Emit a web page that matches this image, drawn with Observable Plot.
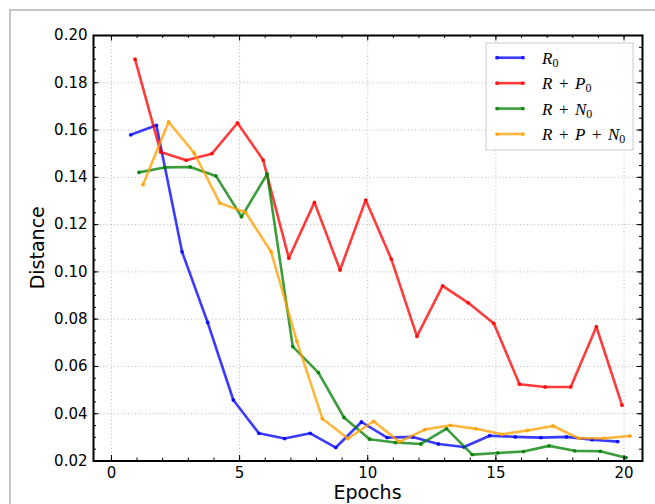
<!DOCTYPE html>
<html>
<head>
<meta charset="utf-8">
<script src="https://cdn.jsdelivr.net/npm/d3@7"></script>
<script src="https://cdn.jsdelivr.net/npm/@observablehq/plot@0.6"></script>
<style>
  body { margin: 0; background: #fff; }
  svg { display: block; }
</style>
</head>
<body>
<div id="chart"></div>
<script>
// ---- data ----
const epochs = [1, 2, 3, 4, 5, 6, 7, 8, 9, 10, 11, 12, 13, 14, 15, 16, 17, 18, 19, 20];
const seriesNames = ["R_0", "R+P_0", "R+N_0", "R+P+N_0"];
const seriesColors = ["#0000ff", "#ff0000", "#008000", "#ffa000"];
const r0   = [0.158, 0.162, 0.1085, 0.0786, 0.0458, 0.0317, 0.0295, 0.0317, 0.0257, 0.0365,
              0.0299, 0.0302, 0.0272, 0.0259, 0.0307, 0.0302, 0.0299, 0.0302, 0.0290, 0.0282];
const rp0  = [0.190, 0.1507, 0.1472, 0.1500, 0.1630, 0.1473, 0.1058, 0.1294, 0.1008, 0.1304,
              0.1054, 0.0727, 0.0941, 0.0869, 0.0782, 0.0525, 0.0513, 0.0513, 0.0768, 0.0436];
const rn0  = [0.1421, 0.1442, 0.1444, 0.1406, 0.1233, 0.1414, 0.0684, 0.0574, 0.0384, 0.0292,
              0.0278, 0.0272, 0.0337, 0.0227, 0.0234, 0.0240, 0.0264, 0.0243, 0.0241, 0.0214];
const rpn0 = [0.1369, 0.1634, 0.1503, 0.1291, 0.1252, 0.1085, 0.0708, 0.0379, 0.0295, 0.0368,
              0.0281, 0.0333, 0.0351, 0.0336, 0.0313, 0.0329, 0.0348, 0.0296, 0.0296, 0.0306];
const xTicks = [0, 5, 10, 15, 20];
const yTicks = [0.02, 0.04, 0.06, 0.08, 0.10, 0.12, 0.14, 0.16, 0.18, 0.20];
const xLabel = "Epochs";
const yLabel = "Distance";

// ---- layout / style ----
const seriesValues = [r0, rp0, rn0, rpn0];
const dodge = [-0.245, -0.08, 0.075, 0.23]; // horizontal offset of each series
const W = 655, H = 504, mL = 93, mR = 13, mT = 35, mB = 43.5;
const innerW = W - mL - mR, innerH = H - mT - mB;
const xMinor = d3.range(0, 21, 1);
const yMinor = d3.range(0, 37).map(i => 0.02 + i * 0.005);

const series = seriesNames.map((name, s) => ({
  name, color: seriesColors[s],
  rows: epochs.map((e, i) => ({ x: e + dodge[s], value: seriesValues[s][i] }))
}));

const grid = { stroke: "#b8b8b8", strokeOpacity: 1, strokeWidth: 1, strokeDasharray: "1,2.5" };

const chart = Plot.plot({
  width: W, height: H,
  marginLeft: mL, marginRight: mR, marginTop: mT, marginBottom: mB,
  style: { fontFamily: "DejaVu Sans", fontSize: "15px", background: "white", color: "black" },
  x: { domain: [-0.7, 20.72] },
  y: { domain: [0.02, 0.20] },
  marks: [
    Plot.gridX(xTicks, grid),
    Plot.gridY(yTicks, grid),
    ...series.flatMap(s => [
      Plot.line(s.rows, { x: "x", y: "value", stroke: s.color, strokeWidth: 2.6, strokeOpacity: 0.77 }),
      Plot.dot(s.rows, { x: "x", y: "value", fill: s.color, r: 1.9, fillOpacity: 0.85 })
    ]),
    // minor ticks (inside)
    Plot.ruleX(xMinor, { x: d => d, insetTop: innerH - 3, stroke: "black" }),
    Plot.ruleX(xMinor, { x: d => d, insetBottom: innerH - 3, stroke: "black" }),
    Plot.ruleY(yMinor, { y: d => d, insetRight: innerW - 3, stroke: "black" }),
    Plot.ruleY(yMinor, { y: d => d, insetLeft: innerW - 3, stroke: "black" }),
    // major ticks (inside)
    Plot.ruleX(xTicks, { x: d => d, insetTop: innerH - 5.5, stroke: "black" }),
    Plot.ruleX(xTicks, { x: d => d, insetBottom: innerH - 5.5, stroke: "black" }),
    Plot.ruleY(yTicks, { y: d => d, insetRight: innerW - 5.5, stroke: "black" }),
    Plot.ruleY(yTicks, { y: d => d, insetLeft: innerW - 5.5, stroke: "black" }),
    Plot.frame({ stroke: "black", strokeWidth: 2 }),
    Plot.axisX({ ticks: xTicks, tickSize: 0, tickPadding: 6, fontSize: 15, label: null }),
    Plot.axisY({ ticks: yTicks, tickSize: 0, tickPadding: 6, fontSize: 15, label: null, tickFormat: d3.format(".2f") })
  ]
});

const svg = d3.select(chart);
// figure border
svg.insert("rect", ":first-child")
  .attr("x", 10).attr("y", 10).attr("width", 700).attr("height", 600)
  .attr("fill", "none").attr("stroke", "#b4b4b4").attr("stroke-width", 1.5);

// axis titles
svg.append("text").attr("x", mL + innerW / 2).attr("y", 499)
  .attr("text-anchor", "middle").attr("font-family", "DejaVu Sans").attr("font-size", 19)
  .attr("fill", "black").text(xLabel);
svg.append("text").attr("transform", `translate(43.5,${mT + innerH / 2}) rotate(-90)`)
  .attr("text-anchor", "middle").attr("font-family", "DejaVu Sans").attr("font-size", 19)
  .attr("fill", "black").text(yLabel);

// legend
const lg = svg.append("g");
lg.append("rect").attr("x", 486).attr("y", 43).attr("width", 147).attr("height", 107)
  .attr("fill", "white").attr("fill-opacity", 0.8).attr("stroke", "#cccccc").attr("stroke-width", 1);
const gap = 6.5;
series.forEach((s, i) => {
  const cy = 57.7 + i * 25.45;
  lg.append("line").attr("x1", 497).attr("x2", 523).attr("y1", cy).attr("y2", cy)
    .attr("stroke", s.color).attr("stroke-width", 2.6).attr("stroke-opacity", 0.77);
  [497, 523].forEach(cx => lg.append("circle").attr("cx", cx).attr("cy", cy).attr("r", 1.9)
    .attr("fill", s.color).attr("fill-opacity", 0.85));
  const t = lg.append("text").attr("x", 542).attr("y", cy + 6.3)
    .attr("text-anchor", "start")
    .attr("font-family", "Liberation Serif").attr("font-size", 17).attr("fill", "black");
  const [body, sub] = s.name.split("_");
  body.split("+").forEach((sym, k) => {
    if (k > 0) t.append("tspan").attr("font-style", "normal").attr("dx", gap).text("+");
    t.append("tspan").attr("font-style", "italic").attr("dx", k > 0 ? gap : 0).text(sym);
  });
  t.append("tspan").attr("font-style", "normal").attr("font-size", 12).attr("dy", 3).text(sub);
});

document.getElementById("chart").appendChild(chart);
</script>
</body>
</html>
